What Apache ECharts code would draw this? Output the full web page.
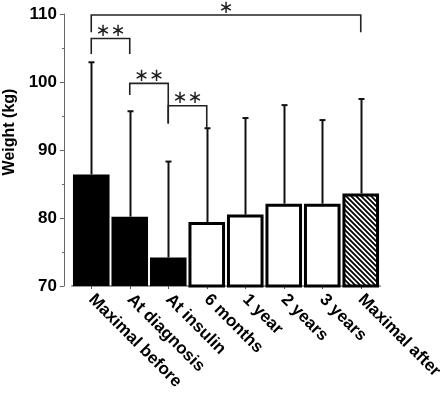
<!DOCTYPE html>
<html>
<head>
<meta charset="utf-8">
<script src="https://cdn.jsdelivr.net/npm/echarts@6/dist/echarts.min.js"></script>
<style>html,body{margin:0;padding:0;background:#fff}#c{width:440px;height:394px}</style>
</head>
<body>
<div id="c"></div>
<script>
var categories = ['Maximal before', 'At diagnosis', 'At insulin', '6 months', '1 year', '2 years', '3 years', 'Maximal after'];
var means = [86.4, 80.2, 74.2, 79.4, 80.5, 82.1, 82.1, 83.6];
var upperSD = [102.9, 95.7, 88.3, 93.2, 94.7, 96.6, 94.4, 97.5];
var barKinds = ['solid', 'solid', 'solid', 'hollow', 'hollow', 'hollow', 'hollow', 'hatched'];
var bracketFrom = [0, 0, 1, 2];
var bracketTo = [7, 1, 2, 3];
var bracketTop = [109.85, 106.4, 99.8, 96.5];
var bracketLegLeft = [107.3, 104.1, 98.1, 93.9];
var bracketLegRight = [107.3, 104.1, 93.9, 93.2];
var bracketLabels = ['\u2217', '\u2217\u2217', '\u2217\u2217', '\u2217\u2217'];
var yTicks = [70, 80, 90, 100, 110];

var FONT = '"Liberation Sans", Arial, sans-serif';

function hatch() {
  var s = 5, c = document.createElement('canvas');
  c.width = s; c.height = s;
  var g = c.getContext('2d');
  g.fillStyle = '#fff'; g.fillRect(0, 0, s, s);
  g.strokeStyle = '#000'; g.lineWidth = 1.8;
  g.beginPath();
  g.moveTo(-1, -1); g.lineTo(s + 1, s + 1);
  g.moveTo(-1, s - 1); g.lineTo(1, s + 1);
  g.moveTo(s - 1, -1); g.lineTo(s + 1, 1);
  g.stroke();
  return c;
}
var hatchImg = hatch();

var barData = means.map(function (v, i) {
  var k = barKinds[i];
  var st;
  if (k === 'solid') st = { color: '#000', borderColor: '#000', borderWidth: 0 };
  else if (k === 'hollow') st = { color: '#fff', borderColor: '#000', borderWidth: 3 };
  else st = { color: { image: hatchImg, repeat: 'repeat' }, borderColor: '#000', borderWidth: 3 };
  return { value: v, itemStyle: st };
});

var errData = means.map(function (v, i) { return [i, v, upperSD[i]]; });
var brData = bracketFrom.map(function (f, i) {
  return [f, bracketTo[i], bracketTop[i], bracketLegLeft[i], bracketLegRight[i]];
});

var chart = echarts.init(document.getElementById('c'), null, { renderer: 'canvas' });
chart.setOption({
  animation: false,
  backgroundColor: '#fff',
  grid: { left: 72, right: 60, top: 14, bottom: 108, containLabel: false, outerBoundsMode: 'none' },
  xAxis: {
    type: 'category',
    data: categories,
    axisLine: { lineStyle: { color: '#999', width: 2 } },
    axisTick: { show: true, alignWithLabel: true, length: 3, lineStyle: { color: '#555' } },
    axisLabel: {
      rotate: -45, interval: 0, margin: 11,
      fontFamily: FONT, fontWeight: 'bold', fontSize: 17, color: '#000'
    }
  },
  yAxis: {
    type: 'value',
    min: yTicks[0], max: yTicks[yTicks.length - 1], interval: 10,
    offset: 8,
    name: 'Weight (kg)',
    nameLocation: 'middle',
    nameGap: 44,
    nameTextStyle: { fontFamily: FONT, fontWeight: 'bold', fontSize: 16, color: '#000', padding: [0, 0, 0, 36] },
    axisLine: { show: true, lineStyle: { color: '#666', width: 1 } },
    axisTick: { show: true, length: 4, lineStyle: { color: '#666' } },
    minorTick: { show: true, splitNumber: 2, length: 2, lineStyle: { color: '#666' } },
    splitLine: { show: false },
    axisLabel: { margin: 7, fontFamily: FONT, fontWeight: 'bold', fontSize: 17, color: '#000' }
  },
  series: [
    {
      type: 'bar',
      data: barData,
      barCategoryGap: '5%',
      z: 2
    },
    {
      type: 'custom',
      data: errData,
      z: 1,
      renderItem: function (params, api) {
        var p0 = api.coord([api.value(0), api.value(1)]);
        var p1 = api.coord([api.value(0), api.value(2)]);
        var x = Math.round(p0[0]) + 0.5;
        return {
          type: 'group',
          children: [
            { type: 'line', shape: { x1: x, y1: p0[1], x2: x, y2: p1[1] }, style: { stroke: '#111', lineWidth: 2 } },
            { type: 'line', shape: { x1: x - 3, y1: p1[1], x2: x + 3, y2: p1[1] }, style: { stroke: '#111', lineWidth: 2 } }
          ]
        };
      }
    },
    {
      type: 'custom',
      data: brData,
      z: 3,
      clip: false,
      renderItem: function (params, api) {
        var a = api.coord([api.value(0), api.value(2)]);
        var b = api.coord([api.value(1), api.value(2)]);
        var la = api.coord([api.value(0), api.value(3)]);
        var lb = api.coord([api.value(1), api.value(4)]);
        return {
          type: 'group',
          children: [
            { type: 'polyline', shape: { points: [[la[0], la[1]], [a[0], a[1]], [b[0], b[1]], [lb[0], lb[1]]] },
              style: { stroke: '#222', lineWidth: 1.6, fill: null } },
            { type: 'text', x: (a[0] + b[0]) / 2, y: a[1] - 7,
              style: { text: bracketLabels[params.dataIndex], fontFamily: '"DejaVu Sans", sans-serif', fontSize: 18,
                       fill: '#222', align: 'center', verticalAlign: 'middle' } }
          ]
        };
      }
    }
  ]
});
</script>
</body>
</html>
